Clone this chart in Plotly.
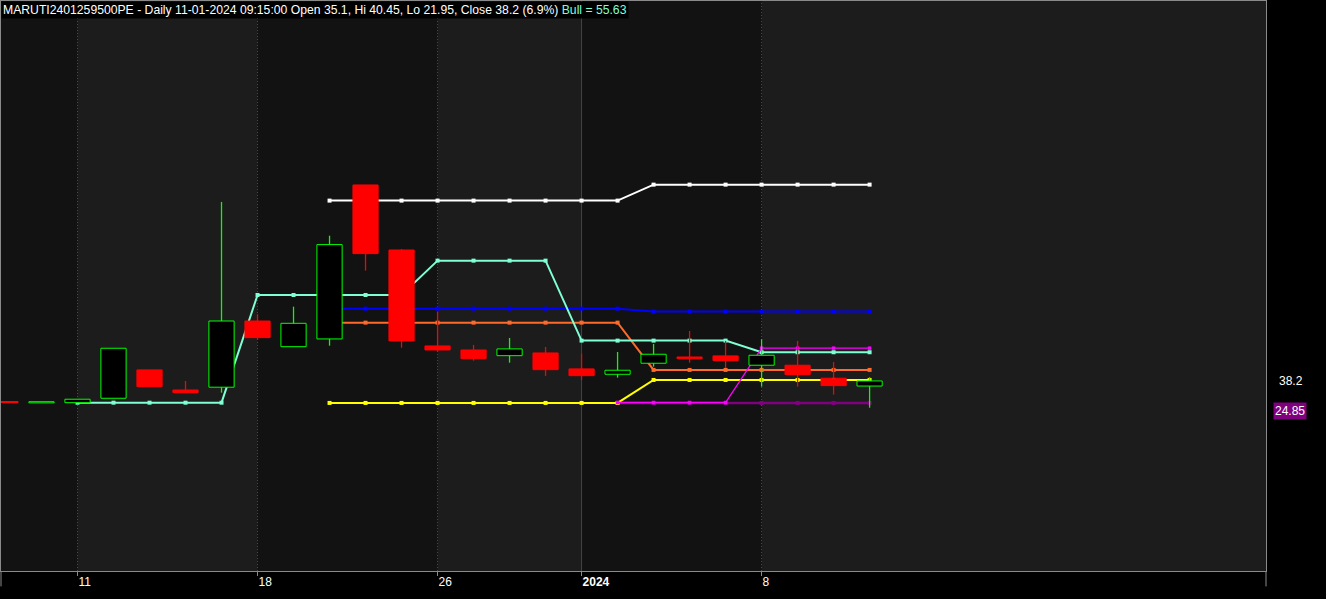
import plotly.graph_objects as go

# ---------------- data ----------------
dates = ["2023-12-07", "2023-12-08", "2023-12-11", "2023-12-12", "2023-12-13",
         "2023-12-14", "2023-12-15", "2023-12-18", "2023-12-19", "2023-12-20",
         "2023-12-21", "2023-12-22", "2023-12-26", "2023-12-27", "2023-12-28",
         "2023-12-29", "2024-01-01", "2024-01-02", "2024-01-03", "2024-01-04",
         "2024-01-05", "2024-01-08", "2024-01-09", "2024-01-10", "2024-01-11"]
opens = [25.7, 24.9, 25.0, 27.7, 44.9, 32.7, 34.4, 74.6, 59.0, 63.7, 157.2, 117.7, 59.45,
         57.0, 53.55, 55.2, 45.5, 42.25, 48.95, 52.75, 53.4, 47.75, 47.75, 39.85, 35.1]
highs = [25.7, 25.6, 27.1, 58.05, 44.9, 38.2, 146.9, 78.7, 83.3, 126.4, 157.2, 118.3, 80.3,
         60.05, 64.3, 58.85, 54.8, 55.8, 60.65, 68.55, 62.5, 63.5, 62.5, 49.75, 40.45]
lows = [25.1, 24.9, 25.0, 27.7, 34.75, 31.1, 31.1, 63.1, 59.0, 59.6, 105.2, 58.4, 56.0,
        50.5, 49.3, 41.25, 38.8, 40.2, 46.9, 49.3, 46.1, 34.75, 34.75, 29.9, 21.95]
closes = [25.1, 25.6, 27.1, 58.05, 34.75, 31.1, 74.6, 64.5, 73.2, 121.0, 115.5, 62.5, 57.0,
          51.75, 57.65, 45.05, 41.4, 44.7, 54.4, 51.75, 50.55, 53.8, 42.05, 35.35, 38.2]

N_ = None
bull = [N_, N_, 25.0, 25.0, 25.0, 25.0, 25.0, 90.4, 90.4, 90.4, 90.4, 90.4, 111.25, 111.25,
        111.25, 111.25, 62.7, 62.7, 62.7, 62.7, 62.7, 55.63, 55.63, 55.63, 55.63]
white_line = [N_] * 9 + [147.7] * 9 + [157.4] * 7
blue_line = [N_] * 9 + [82.1] * 9 + [80.3] * 7
orange_line = [N_] * 9 + [73.6] * 9 + [44.9] * 7
yellow_line = [N_] * 9 + [24.85] * 9 + [38.8] * 7
magenta_line = [N_] * 17 + [25.1] * 4 + [58.1] * 4
purple_line = [N_] * 17 + [24.85] * 8

tick_dates = ["2023-12-11", "2023-12-18", "2023-12-26", "2024-01-01", "2024-01-08"]
tick_labels = ["11", "18", "26", "<b>2024</b>", "8"]
year_date = "2024-01-01"

title_main = ("MARUTI2401259500PE - Daily 11-01-2024 09:15:00 Open 35.1, Hi 40.45, "
              "Lo 21.95, Close 38.2 (6.9%) ")
title_bull = "Bull = 55.63"
last_close = 38.2
last_purple = 24.85

# ---------------- figure ----------------
idx = list(range(len(dates)))
tick_idx = [dates.index(d) for d in tick_dates]
year_idx = dates.index(year_date)
Y_RANGE = [-77.2, 268.9]

FONT = "Liberation Sans, Arial, sans-serif"
fig = go.Figure()

# indicator lines (base subplot, drawn underneath the candles)
line_specs = [
    (purple_line, "#800080", 2.5, 4),
    (yellow_line, "#ffff00", 2, 4),
    (orange_line, "#ff6a2b", 2, 4),
    (blue_line, "#0000ff", 2, 4),
    (bull, "#7fffd4", 2, 4),
    (white_line, "#ffffff", 2, 4),
    (magenta_line, "#ff00ff", 1.3, 3.5),
]
for vals, col, w, ms in line_specs:
    fig.add_trace(go.Scatter(
        x=idx, y=vals, mode="lines+markers",
        line=dict(color=col, width=w),
        marker=dict(symbol="square", size=ms, color=col),
        hoverinfo="skip", showlegend=False, connectgaps=False))

# candle bodies (overlay subplot, on top of the lines)
bx, bbase, bh, bfill, bline = [], [], [], [], []
for i in idx:
    lo_b = min(opens[i], closes[i])
    hi_b = max(opens[i], closes[i])
    up = closes[i] >= opens[i]
    bx.append(i)
    bbase.append(lo_b)
    bh.append(max(hi_b - lo_b, 0.6))
    bfill.append("#000000" if up else "#ff0000")
    bline.append("#00ff00" if up else "#ff0000")
fig.add_trace(go.Bar(x=bx, y=bh, base=bbase, width=0.7, yaxis="y2",
                     marker=dict(color=bfill, line=dict(color=bline, width=1)),
                     hoverinfo="skip", showlegend=False))

# wicks: upper (body top -> high) and lower (low -> body bottom)
up_x, up_y, dn_x, dn_y = [], [], [], []
for i in idx:
    top_b = max(opens[i], closes[i])
    bot_b = min(opens[i], closes[i])
    segs = []
    if highs[i] > top_b:
        segs += [i, i, None], [top_b, highs[i], None]
    if lows[i] < bot_b:
        segs += [i, i, None], [lows[i], bot_b, None]
    for k in range(0, len(segs), 2):
        if closes[i] >= opens[i]:
            up_x += segs[k]
            up_y += segs[k + 1]
        else:
            dn_x += segs[k]
            dn_y += segs[k + 1]
fig.add_trace(go.Scatter(x=up_x, y=up_y, mode="lines", yaxis="y2",
                         line=dict(color="#00ff00", width=1.3),
                         hoverinfo="skip", showlegend=False))
fig.add_trace(go.Scatter(x=dn_x, y=dn_y, mode="lines", yaxis="y2",
                         line=dict(color="#ff0000", width=1.3),
                         hoverinfo="skip", showlegend=False))

# background bands and separators
shapes = []
bounds = [-0.2] + tick_idx + [36]
for k in range(len(bounds) - 1):
    if k % 2 == 0:
        shapes.append(dict(type="rect", xref="x", yref="paper", x0=bounds[k], x1=bounds[k + 1],
                           y0=0, y1=1, fillcolor="#121212", line=dict(width=0), layer="below"))
for t in tick_idx:
    if t == year_idx:
        shapes.append(dict(type="line", xref="x", yref="paper", x0=t, x1=t, y0=0, y1=1,
                           line=dict(color="#444444", width=1), layer="below"))
    else:
        shapes.append(dict(type="line", xref="x", yref="paper", x0=t, x1=t, y0=0, y1=1,
                           line=dict(color="#4a4a4a", width=1, dash="1px,2px"), layer="below"))
# border extensions below the plot
for xp in (0, 1):
    shapes.append(dict(type="line", xref="paper", yref="paper", x0=xp, x1=xp, y0=-0.027, y1=0,
                       line=dict(color="#8a8a8a", width=1)))

annotations = [
    dict(xref="paper", yref="paper", x=0, y=1, xanchor="left", yanchor="top",
         text=title_main + "<span style='color:#7fffd4'>" + title_bull + "</span>",
         showarrow=False, bgcolor="#000000", borderpad=1,
         font=dict(family=FONT, size=12.2, color="#ffffff")),
    dict(xref="paper", yref="y", x=1, y=last_close, xanchor="left", yanchor="middle",
         text=str(last_close), showarrow=False, xshift=11,
         font=dict(family=FONT, size=12, color="#ffffff")),
    dict(xref="paper", yref="y", x=1, y=last_purple, xanchor="left", yanchor="middle",
         text=str(last_purple), showarrow=False, xshift=7, yshift=-8, bgcolor="#800080",
         borderpad=1, font=dict(family=FONT, size=12, color="#ffffff")),
]

fig.update_layout(
    width=1326, height=599,
    margin=dict(l=1, r=60, t=1, b=28),
    paper_bgcolor="#000000", plot_bgcolor="#1c1c1c",
    barmode="overlay", showlegend=False,
    shapes=shapes, annotations=annotations,
    font=dict(family=FONT, size=12, color="#ffffff"),
    xaxis=dict(range=[-0.125, 35.01], showgrid=False, zeroline=False,
               tickmode="array", tickvals=tick_idx, ticktext=tick_labels,
               ticks="outside", ticklen=4, tickcolor="#8a8a8a",
               ticklabelposition="outside right",
               tickfont=dict(family=FONT, size=12, color="#ffffff"),
               showline=True, linecolor="#8a8a8a", linewidth=1, mirror=True,
               fixedrange=True),
    yaxis=dict(range=Y_RANGE, showgrid=False, zeroline=False,
               showticklabels=False, ticks="",
               showline=True, linecolor="#8a8a8a", linewidth=1, mirror=True,
               fixedrange=True),
    yaxis2=dict(range=Y_RANGE, overlaying="y", side="right", showgrid=False,
                zeroline=False, showticklabels=False, ticks="", showline=False,
                fixedrange=True),
)

fig.write_html("out.html", config={"displayModeBar": False},
               post_script="document.body.style.margin='0';document.body.style.background='#000';")
